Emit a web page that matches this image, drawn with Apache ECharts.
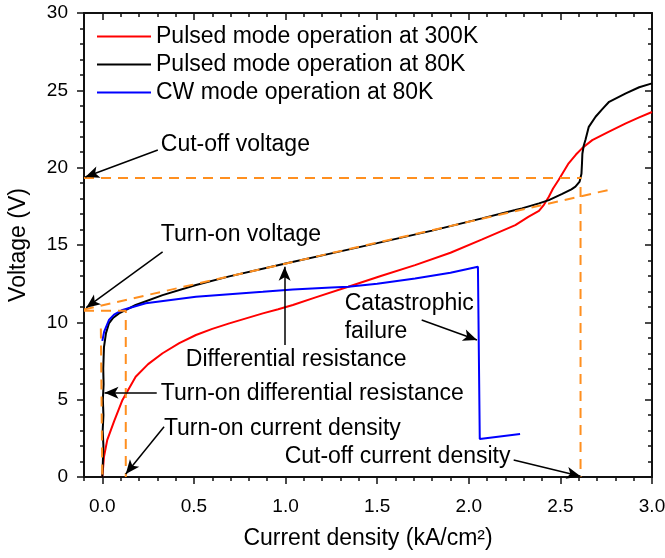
<html>
<head>
<meta charset="utf-8">
<script src="https://cdn.jsdelivr.net/npm/echarts@6/dist/echarts.min.js"></script>
</head>
<body>
<style>
    html, body, #main {
        width: 100%;
        height: 100%;
        margin: 0;
    }
</style>
<div id="main"></div>
<script>
// measured curves [current density kA/cm2, voltage V]
var pulsed300K = [[0.0, 0], [0.009, 1.3], [0.027, 2.4], [0.064, 3.6], [0.11, 4.98], [0.182, 6.48],
    [0.25, 7.3], [0.329, 8.0], [0.42, 8.65], [0.511, 9.18], [0.6, 9.58], [0.693, 9.93], [0.876, 10.58],
    [0.96, 10.85], [1.04, 11.12], [1.16, 11.6], [1.342, 12.3], [1.52, 13.0], [1.707, 13.7], [1.9, 14.5],
    [2.07, 15.35], [2.254, 16.29], [2.327, 16.83], [2.383, 17.2], [2.41, 17.6], [2.437, 18.12],
    [2.46, 18.65], [2.49, 19.2], [2.545, 20.28], [2.585, 20.85], [2.618, 21.25], [2.674, 21.78],
    [2.76, 22.3], [2.857, 22.86], [2.93, 23.25], [3.0, 23.6]];
var pulsed80K = [[0.0, 0], [0.003, 1], [0.006, 2], [0.002, 3], [0.006, 4], [0.003, 5], [0.007, 6],
    [0.005, 7], [0.009, 8.4], [0.02, 9.3], [0.036, 9.93], [0.06, 10.3], [0.091, 10.58], [0.182, 11.12],
    [0.329, 11.76], [0.511, 12.41], [0.693, 12.97], [1.0, 13.8], [1.25, 14.46], [1.5, 15.12],
    [1.8, 15.93], [2.072, 16.72], [2.254, 17.26], [2.29, 17.37], [2.383, 17.69], [2.437, 17.9],
    [2.51, 18.3], [2.56, 18.6], [2.582, 18.77], [2.605, 19.1], [2.615, 19.6], [2.618, 20.3],
    [2.62, 20.9], [2.627, 21.4], [2.637, 21.8], [2.655, 22.64], [2.692, 23.29], [2.73, 23.8],
    [2.766, 24.26], [2.857, 24.8], [2.93, 25.2], [3.0, 25.45]];
var cw80K = [[0.0, 8.8], [0.01, 9.4], [0.036, 10.15], [0.064, 10.5], [0.11, 10.8], [0.237, 11.23],
    [0.511, 11.66], [0.876, 11.98], [1.04, 12.13], [1.25, 12.25], [1.342, 12.3], [1.5, 12.5],
    [1.707, 12.84], [1.9, 13.2], [2.05, 13.6], [2.06, 2.45], [2.28, 2.78]];

// orange guide lines
var fitLine = [[-0.1, 10.83], [2.77, 18.58]];
var turnOnVoltageLine = [[-0.1, 10.75], [0.128, 10.75], [0.128, 0]];
var turnOnResLine = [[-0.008, 9.6], [0, 0]];
var cutoffVoltageLine = [[-0.1, 19.33], [2.615, 19.33]];
var cutoffCurrentLine = [[2.61, 18.75], [2.61, 0]];

var xMajorTicks = [0, 0.5, 1.0, 1.5, 2.0, 2.5, 3.0];
var xMinorTicks = [-0.1, 0.1, 0.2, 0.3, 0.4, 0.6, 0.7, 0.8, 0.9, 1.1, 1.2, 1.3, 1.4, 1.6, 1.7, 1.8, 1.9,
    2.1, 2.2, 2.3, 2.4, 2.6, 2.7, 2.8, 2.9];

var seriesNames = ['Pulsed mode operation at 300K', 'Pulsed mode operation at 80K', 'CW mode operation at 80K'];

// annotations: text [label, x, y] and arrows [from, to]
var notes = [
    ['Cut-off voltage', 0.319, 21.46],
    ['Turn-on voltage', 0.319, 15.64],
    ['Differential resistance', 0.456, 7.56],
    ['Turn-on differential resistance', 0.319, 5.41],
    ['Turn-on current density', 0.336, 3.15],
    ['Cut-off current density', 0.995, 1.31],
    ['Catastrophic', 1.323, 11.23],
    ['failure', 1.323, 9.39]
];
var arrows = [
    [[0.303, 21.14], [-0.093, 19.4]],
    [[0.329, 14.56], [-0.088, 10.95]],
    [[0.995, 8.53], [0.995, 13.6]],
    [[0.297, 5.45], [0.012, 5.45]],
    [[0.337, 3.25], [0.128, 0.2]],
    [[2.245, 1.1], [2.61, 0.05]],
    [[1.743, 10.15], [2.045, 8.86]]
];

var font = 'Liberation Sans, Arial, sans-serif';
var orange = '#FF8F1F';

function curve(name, data, color) {
    return {
        name: name, type: 'line', data: data, showSymbol: false, symbol: 'none',
        lineStyle: { color: color, width: 2 }, itemStyle: { color: color }, silent: true
    };
}
function guide(data) {
    return {
        type: 'line', data: data, showSymbol: false, symbol: 'none', silent: true, z: 3,
        lineStyle: { color: orange, width: 2, type: [10, 7] }
    };
}

var axisBase = { min: -0.1, max: 3.0, splitLine: { show: false } };
var blackLine = { show: true, onZero: false, lineStyle: { color: '#111', width: 2 } };

var chart = echarts.init(document.getElementById('main'));
var fit = guide(fitLine);
fit.markLine = {
    silent: true, animation: false,
    symbol: ['none', 'arrow'], symbolSize: [9, 14],
    lineStyle: { color: '#000', width: 1.5, type: 'solid' },
    label: { show: false }, emphasis: { disabled: true },
    data: arrows.map(function (a) { return [{ coord: a[0] }, { coord: a[1] }]; })
};
fit.markPoint = {
    silent: true, animation: false, symbol: 'circle', symbolSize: 0,
    label: { show: true, position: 'right', distance: 0, formatter: '{b}', fontSize: 23, color: '#000', fontFamily: font },
    data: notes.map(function (n) { return { name: n[0], coord: [n[1], n[2]] }; })
};

var option = {
    animation: false,
    textStyle: { fontFamily: font },
    grid: { left: 84, right: 13, top: 13, bottom: 81, containLabel: false, outerBoundsMode: 'none' },
    legend: {
        data: seriesNames.map(function (n) { return { name: n, icon: 'rect' }; }),
        orient: 'vertical', left: 92, top: 20, itemWidth: 54, itemHeight: 2, itemGap: 5,
        selectedMode: false,
        textStyle: { fontSize: 23, color: '#000', lineHeight: 23, fontFamily: font }
    },
    xAxis: [
        Object.assign({}, axisBase, {
            type: 'value', position: 'bottom', axisLine: blackLine,
            name: 'Current density (kA/cm\u00B2)', nameLocation: 'middle', nameGap: 50,
            nameTextStyle: { fontSize: 23, color: '#000', fontFamily: font },
            axisTick: { customValues: xMajorTicks, length: 7, lineStyle: { color: '#111', width: 1.5 } },
            axisLabel: { customValues: xMajorTicks, margin: 20, fontSize: 19, color: '#000', fontFamily: font,
                formatter: function (v) { return v.toFixed(1); } }
        }),
        Object.assign({}, axisBase, {
            type: 'value', position: 'bottom', axisLine: { show: false, onZero: false },
            axisTick: { customValues: xMinorTicks, length: 4, lineStyle: { color: '#111', width: 1.5 } },
            axisLabel: { show: false }
        }),
        Object.assign({}, axisBase, {
            type: 'value', position: 'top', axisLine: blackLine,
            axisTick: { customValues: xMajorTicks, inside: true, length: 7, lineStyle: { color: '#111', width: 1.5 } },
            axisLabel: { show: false }
        }),
        Object.assign({}, axisBase, {
            type: 'value', position: 'top', axisLine: { show: false, onZero: false },
            axisTick: { customValues: xMinorTicks, inside: true, length: 4, lineStyle: { color: '#111', width: 1.5 } },
            axisLabel: { show: false }
        })
    ],
    yAxis: [
        {
            type: 'value', position: 'left', min: 0, max: 30, interval: 5, axisLine: blackLine,
            splitLine: { show: false },
            name: 'Voltage (V)', nameLocation: 'middle', nameGap: 54,
            nameTextStyle: { fontSize: 23, color: '#000', fontFamily: font },
            axisTick: { length: 7, lineStyle: { color: '#111', width: 1.5 } },
            minorTick: { show: true, splitNumber: 5, length: 4, lineStyle: { color: '#111', width: 1.5 } },
            axisLabel: { margin: 16, fontSize: 19, color: '#000', fontFamily: font }
        },
        {
            type: 'value', position: 'right', min: 0, max: 30, interval: 5, axisLine: blackLine,
            splitLine: { show: false },
            axisTick: { inside: true, length: 7, lineStyle: { color: '#111', width: 1.5 } },
            minorTick: { show: true, splitNumber: 5, length: 4, lineStyle: { color: '#111', width: 1.5 } },
            axisLabel: { show: false }
        }
    ],
    series: [
        curve(seriesNames[0], pulsed300K, '#FF0000'),
        curve(seriesNames[1], pulsed80K, '#000000'),
        curve(seriesNames[2], cw80K, '#0000FF'),
        fit,
        guide(turnOnVoltageLine),
        guide(turnOnResLine),
        guide(cutoffVoltageLine),
        guide(cutoffCurrentLine)
    ]
};
chart.setOption(option);
window.onresize = chart.resize;
</script>
</body>
</html>
